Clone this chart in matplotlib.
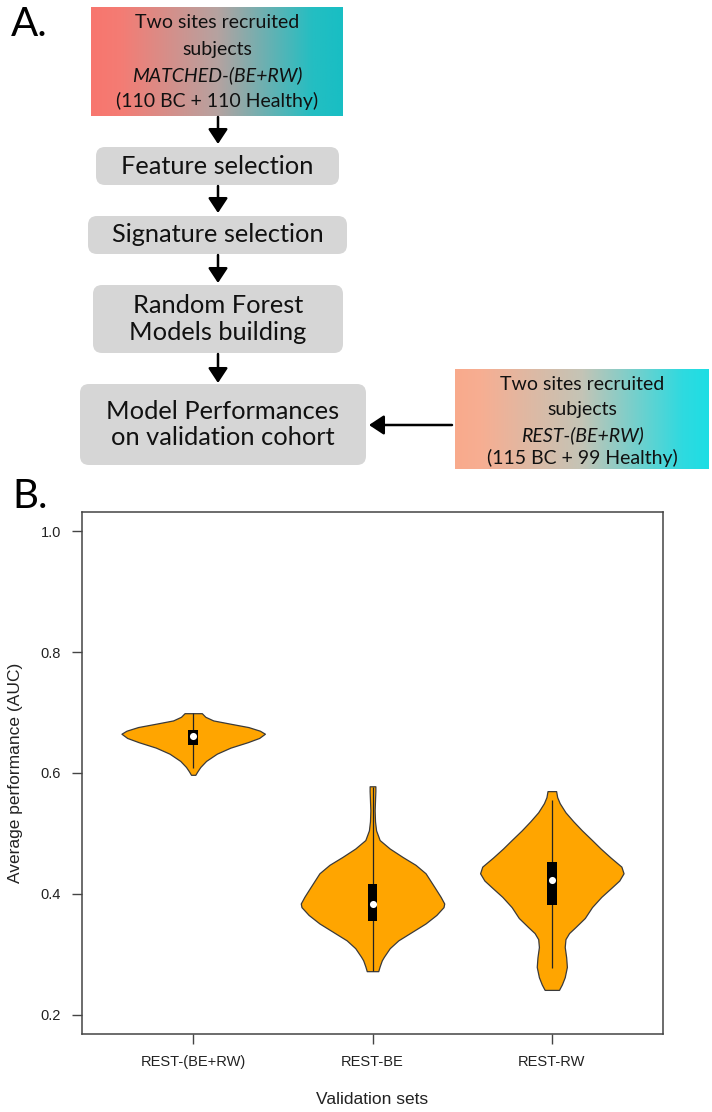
import numpy as np
import matplotlib
matplotlib.use("Agg")
import matplotlib.pyplot as plt
from matplotlib.patches import FancyBboxPatch


# Panel B data: violin outlines (value, relative half-width)
sets = ["REST-(BE+RW)", "REST-BE", "REST-RW"]

v1_y = [0.597, 0.603, 0.610, 0.620, 0.632, 0.642, 0.651, 0.658, 0.665, 0.670, 0.676, 0.682, 0.687, 0.693, 0.699]
v1_w = [0.03, 0.06, 0.10, 0.18, 0.33, 0.52, 0.76, 0.92, 1.00, 0.93, 0.77, 0.50, 0.28, 0.17, 0.12]

v2_y = [0.272, 0.280, 0.290, 0.296, 0.310, 0.323, 0.337, 0.351, 0.365, 0.378, 0.384, 0.395, 0.410,
        0.434, 0.448, 0.461, 0.475, 0.489, 0.505, 0.520, 0.538, 0.555, 0.570, 0.578]
v2_w = [0.08, 0.10, 0.13, 0.16, 0.24, 0.36, 0.55, 0.74, 0.89, 0.99, 1.00, 0.95, 0.87,
        0.74, 0.60, 0.42, 0.24, 0.10, 0.05, 0.035, 0.03, 0.035, 0.04, 0.04]

v3_y = [0.241, 0.250, 0.262, 0.279, 0.295, 0.312, 0.325, 0.335, 0.345, 0.360, 0.378, 0.395, 0.410,
        0.422, 0.434, 0.445, 0.460, 0.475, 0.489, 0.505, 0.520, 0.535, 0.550, 0.560, 0.570]
v3_w = [0.10, 0.14, 0.18, 0.21, 0.20, 0.18, 0.19, 0.24, 0.33, 0.46, 0.56, 0.69, 0.83,
        0.94, 1.00, 0.97, 0.82, 0.68, 0.56, 0.42, 0.30, 0.19, 0.11, 0.075, 0.06]

whisk_lo = [0.609, 0.272, 0.278]
q1 = [0.647, 0.355, 0.382]
medians = [0.662, 0.384, 0.423]
q3 = [0.672, 0.417, 0.452]
whisk_hi = [0.699, 0.577, 0.555]

# Panel A texts
steps = ["Feature selection", "Signature selection", "Random Forest\nModels building",
         "Model Performances\non validation cohort"]
cohort_train = ["Two sites recruited", "subjects", "MATCHED-(BE+RW)", "(110 BC + 110 Healthy)"]
cohort_valid = ["Two sites recruited", "subjects", "REST-(BE+RW)", "(115 BC + 99 Healthy)"]


def gradient_box(ax, x0, x1, y0, y1, stops, cols):
    xs = np.linspace(0, 1, 256)
    cols = np.array(cols) / 255.0
    img = np.stack([np.interp(xs, stops, cols[:, k]) for k in range(3)], axis=-1)
    ax.imshow(img[None, :, :], extent=(x0, x1, y1, y0), aspect="auto", zorder=1)


def cohort_text(ax, xc, ys, lines):
    for i, (y, t) in enumerate(zip(ys, lines)):
        ax.text(xc, y, t, ha="center", va="center", fontsize=14, family="Lato",
                style="italic" if i == 2 else "normal", color="#111111", zorder=3)


def arrow(ax, xy, xytext):
    ax.annotate("", xy=xy, xytext=xytext,
                arrowprops=dict(arrowstyle="-|>,head_length=0.5,head_width=0.33", lw=1.8,
                                color="black", mutation_scale=18, shrinkA=0, shrinkB=0))


fig = plt.figure(figsize=(7.12, 11.12), dpi=100)

# ---- panel A, drawn in pixel coordinates ----
fa = fig.add_axes([0, 0, 1, 1])
fa.set_xlim(0, 712)
fa.set_ylim(1112, 0)
fa.axis("off")

fa.text(11, 24, "A.", fontsize=29, family="Lato", va="center", ha="left")
fa.text(12, 497, "B.", fontsize=29, family="Lato", va="center", ha="left")

gradient_box(fa, 91, 343, 7, 116, [0, 0.12, 0.5, 0.88, 1],
             [(248, 118, 110), (244, 124, 116), (182, 162, 160), (36, 190, 194), (24, 190, 196)])
cohort_text(fa, 217, [23, 49, 75, 101], cohort_train)

gradient_box(fa, 455, 709, 369, 469, [0, 0.1, 0.5, 0.9, 1],
             [(249, 170, 140), (247, 174, 146), (196, 196, 182), (46, 218, 224), (30, 222, 228)])
cohort_text(fa, 582, [385, 410, 435, 458], cohort_valid)

boxes = [(96, 339, 147, 185), (88, 347, 216, 254), (93, 343, 285, 353), (80, 366, 384, 465)]
for (x0, x1, y0, y1), label in zip(boxes, steps):
    fa.add_patch(FancyBboxPatch((x0, y0), x1 - x0, y1 - y0,
                                boxstyle="round,pad=0,rounding_size=9",
                                fc="#D6D6D6", ec="none", zorder=1))
    fa.text((x0 + x1) / 2, (y0 + y1) / 2, label, ha="center", va="center",
            fontsize=18.3, family="Lato", color="#111111", linespacing=1.2, zorder=3)

arrow(fa, (218, 144), (218, 117))
arrow(fa, (218, 213), (218, 186))
arrow(fa, (218, 283), (218, 255))
arrow(fa, (218, 383), (218, 354))
arrow(fa, (369, 425), (452, 425))

# ---- panel B ----
ax = fig.add_axes([82 / 712, 1 - 1034 / 1112, 581 / 712, 522 / 1112])
pos = np.arange(1, len(sets) + 1)
half = 0.4
for p, vy, vw in zip(pos, [v1_y, v2_y, v3_y], [v1_w, v2_w, v3_w]):
    vy = np.array(vy)
    vw = np.array(vw) * half
    ax.fill_betweenx(vy, p - vw, p + vw, facecolor="#FFA500", edgecolor="#3a3a3a",
                     lw=0.9, zorder=2)

ax.vlines(pos, whisk_lo, whisk_hi, color="#222222", lw=0.9, zorder=3)
ax.bar(pos, np.array(q3) - np.array(q1), bottom=q1, width=0.055, color="black", zorder=4)
ax.scatter(pos, medians, s=26, color="white", zorder=5, linewidths=0)

ax.set_xlim(0.38, 3.62)
ax.set_ylim(0.168, 1.032)
ax.set_xticks(pos)
ax.set_xticklabels(sets)
ax.set_yticks([0.2, 0.4, 0.6, 0.8, 1.0])
ax.set_yticklabels(["0.2", "0.4", "0.6", "0.8", "1.0"])
ax.tick_params(length=7, width=1.0, color="#444444", labelsize=10.5, pad=8)
for lab in ax.get_xticklabels() + ax.get_yticklabels():
    lab.set_family("Liberation Sans")
    lab.set_color("#222222")
for s in ax.spines.values():
    s.set_color("#444444")
    s.set_linewidth(1.1)
ax.set_xlabel("Validation sets", fontsize=12.5, family="Liberation Sans", labelpad=17, color="#222222")
ax.set_ylabel("Average performance (AUC)", fontsize=12.5, family="Liberation Sans", labelpad=13,
              color="#222222")

fig.savefig("out.png", dpi=100)
